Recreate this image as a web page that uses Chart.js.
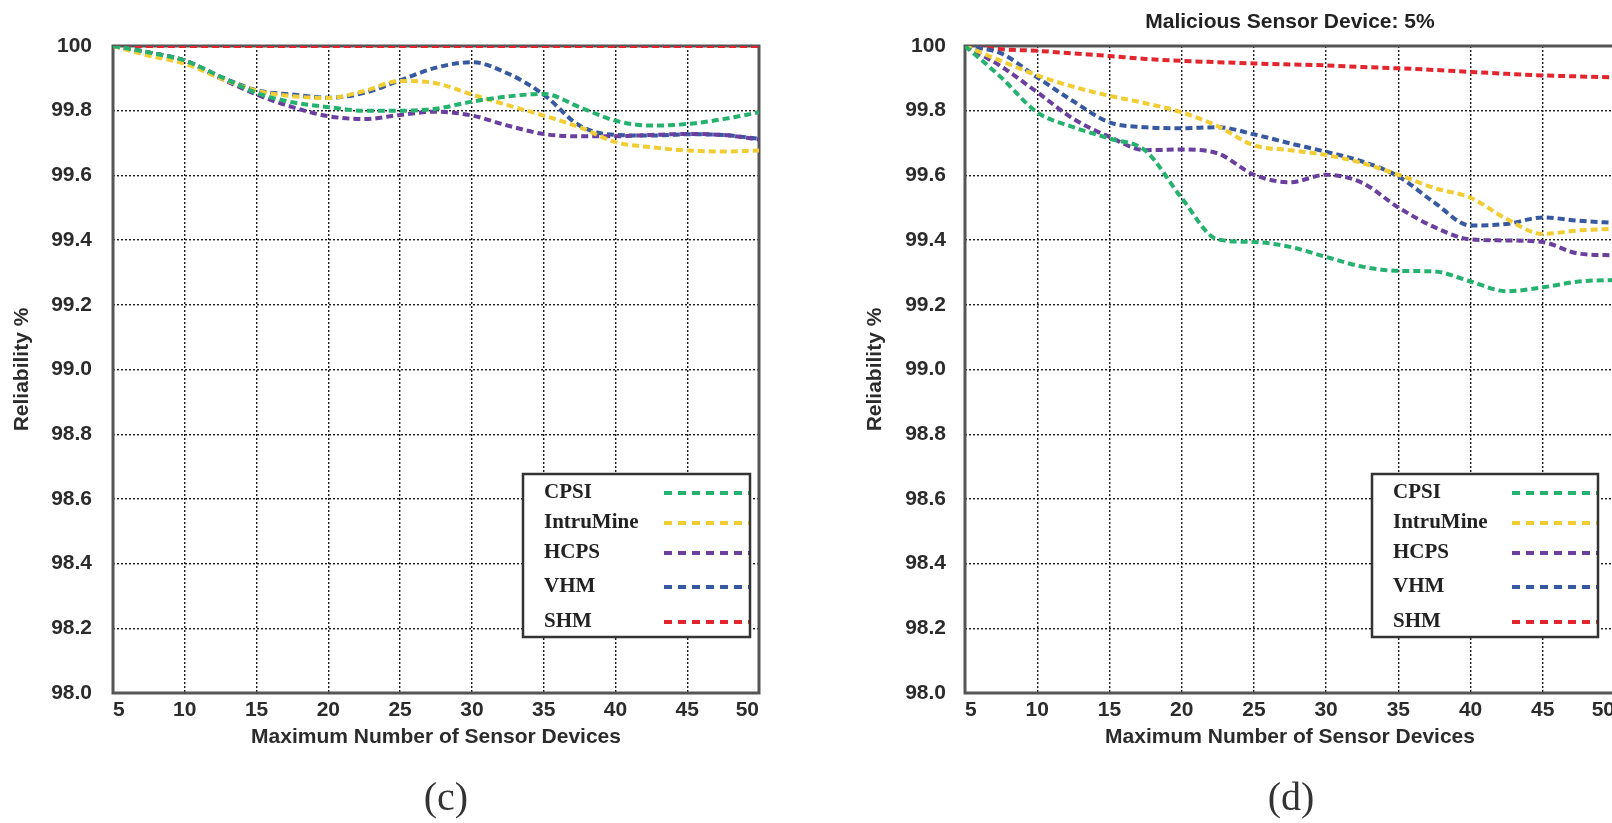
<!DOCTYPE html>
<html>
<head>
<meta charset="utf-8">
<script src="https://cdn.jsdelivr.net/npm/chart.js@4.4.0/dist/chart.umd.min.js"></script>
<style>
  html, body { margin: 0; padding: 0; background: #fff; overflow: hidden; }
  body { width: 1612px; height: 823px; position: relative; }
  .panel { position: absolute; top: 0; height: 823px; width: 800px; }
  #panelC { left: 0; }
  #panelD { left: 820px; }
  .caption {
    position: absolute; top: 775px; width: 120px; text-align: center;
    font: 40px "Liberation Serif", "Times New Roman", serif; line-height: 44px; color: #333;
  }
</style>
</head>
<body>
<div class="panel" id="panelC"><canvas id="chartC"></canvas></div>
<div class="panel" id="panelD"><canvas id="chartD"></canvas></div>
<div class="caption" style="left:386px">(c)</div>
<div class="caption" style="left:1231px">(d)</div>
<script>
// x positions (every 2.5 sensor devices)
const xValues = [5, 7.5, 10, 12.5, 15, 17.5, 20, 22.5, 25, 27.5, 30, 32.5, 35, 37.5, 40, 42.5, 45, 47.5, 50];
const seriesNames = ['CPSI', 'IntruMine', 'HCPS', 'VHM', 'SHM'];

// panel (c)
const cCPSI      = [100, 99.98, 99.955, 99.905, 99.855, 99.826, 99.811, 99.80, 99.80, 99.806, 99.828, 99.844, 99.852, 99.811, 99.769, 99.754, 99.759, 99.774, 99.795];
const cIntruMine = [100, 99.97, 99.945, 99.90, 99.862, 99.845, 99.839, 99.861, 99.892, 99.885, 99.85, 99.817, 99.785, 99.749, 99.703, 99.687, 99.677, 99.674, 99.677];
const cHCPS      = [100, 99.98, 99.955, 99.90, 99.85, 99.811, 99.783, 99.774, 99.787, 99.797, 99.785, 99.754, 99.728, 99.721, 99.721, 99.725, 99.728, 99.725, 99.711];
const cVHM       = [100, 99.98, 99.955, 99.905, 99.863, 99.85, 99.84, 99.855, 99.894, 99.933, 99.95, 99.915, 99.85, 99.754, 99.725, 99.723, 99.727, 99.725, 99.713];
const cSHM       = [100, 100, 100, 100, 100, 100, 100, 100, 100, 100, 100, 100, 100, 100, 100, 100, 100, 100, 100];

// panel (d), malicious sensor device 5%
const dCPSI      = [100, 99.903, 99.795, 99.749, 99.714, 99.676, 99.53, 99.402, 99.394, 99.379, 99.348, 99.318, 99.305, 99.303, 99.272, 99.242, 99.254, 99.272, 99.277];
const dIntruMine = [100, 99.954, 99.909, 99.874, 99.846, 99.823, 99.795, 99.752, 99.693, 99.678, 99.663, 99.638, 99.602, 99.561, 99.531, 99.465, 99.419, 99.43, 99.435];
const dHCPS      = [100, 99.937, 99.857, 99.775, 99.719, 99.678, 99.68, 99.668, 99.602, 99.579, 99.602, 99.577, 99.501, 99.44, 99.402, 99.399, 99.394, 99.358, 99.353];
const dVHM       = [100, 99.977, 99.903, 99.829, 99.764, 99.749, 99.746, 99.749, 99.727, 99.699, 99.673, 99.643, 99.597, 99.516, 99.445, 99.45, 99.47, 99.46, 99.453];
const dSHM       = [100, 99.99, 99.985, 99.977, 99.969, 99.96, 99.954, 99.95, 99.946, 99.943, 99.94, 99.935, 99.931, 99.926, 99.92, 99.914, 99.909, 99.906, 99.903];

const seriesColors = ['#25b26e', '#f1cd33', '#6b3f9e', '#36599f', '#e3262e'];
const tickFont = { size: 21, weight: 'bold' };

Chart.defaults.font.family = '"Liberation Sans", Arial, sans-serif';
Chart.defaults.color = '#2b2b2b';

// grey box round the plot area, drawn under the curves
const plotFrame = {
  id: 'plotFrame',
  beforeDatasetsDraw(chart) {
    const { ctx, chartArea: a } = chart;
    ctx.save();
    ctx.strokeStyle = '#555';
    ctx.lineWidth = 3;
    ctx.strokeRect(a.left, a.top, a.right - a.left, a.bottom - a.top);
    ctx.restore();
  }
};

// legend box inside the plot: name on the left, dashed sample on the right
const boxLegend = {
  id: 'boxLegend',
  afterDatasetsDraw(chart, args, opts) {
    const { ctx, chartArea: a } = chart;
    const right = a.right - opts.right;
    const bottom = a.bottom - opts.bottom;
    const left = right - opts.width;
    const top = bottom - opts.height;
    ctx.save();
    ctx.fillStyle = '#fff';
    ctx.fillRect(left, top, opts.width, opts.height);
    ctx.font = 'bold 21px "Liberation Serif", "Times New Roman", serif';
    ctx.textBaseline = 'middle';
    chart.data.datasets.forEach((ds, i) => {
      const y = top + opts.rows[i];
      ctx.fillStyle = '#222';
      ctx.fillText(ds.label, left + 21, y);
      ctx.strokeStyle = ds.borderColor;
      ctx.lineWidth = 4;
      ctx.setLineDash([8, 6]);
      ctx.beginPath();
      ctx.moveTo(right - 86, y);
      ctx.lineTo(right, y);
      ctx.stroke();
    });
    ctx.setLineDash([]);
    ctx.strokeStyle = '#333';
    ctx.lineWidth = 2.5;
    ctx.strokeRect(left, top, opts.width, opts.height);
    ctx.restore();
  }
};

function makeDatasets(values) {
  return values.map((vals, i) => ({
    label: seriesNames[i],
    data: xValues.map((x, j) => ({ x: x, y: vals[j] })),
    borderColor: seriesColors[i],
    borderWidth: 4,
    borderDash: [7, 4],
    pointRadius: 0,
    fill: false,
    cubicInterpolationMode: 'monotone'
  }));
}

function makeScales(yWidth, yTitlePad, yTickPad) {
  const grid = { color: '#1a1a1a', lineWidth: 1.4, drawTicks: false };
  const border = { display: false, dash: [2, 2] };
  return {
    x: {
      type: 'linear', min: 5, max: 50,
      afterFit(s) { s.height = 60; },
      ticks: { stepSize: 5, align: 'inner', padding: 5, autoSkip: false, maxRotation: 0, font: tickFont },
      grid: grid, border: border,
      title: { display: true, text: 'Maximum Number of Sensor Devices', font: tickFont, padding: { top: 0, bottom: 3 } }
    },
    y: {
      type: 'linear', min: 98, max: 100,
      afterFit(s) { s.width = yWidth; },
      ticks: {
        stepSize: 0.2, crossAlign: 'near', padding: yTickPad, font: tickFont,
        callback: v => Math.abs(v - 100) < 1e-6 ? '100' : v.toFixed(1)
      },
      grid: grid, border: border,
      title: { display: true, text: 'Reliability %', font: tickFont, padding: { top: yTitlePad, bottom: 0 } }
    }
  };
}

new Chart(document.getElementById('chartC'), {
  type: 'line',
  data: { datasets: makeDatasets([cCPSI, cIntruMine, cHCPS, cVHM, cSHM]) },
  options: {
    responsive: true, maintainAspectRatio: false, animation: false,
    layout: { padding: { top: 46, left: 0, right: 41, bottom: 70 } },
    scales: makeScales(113, 10, 21),
    plugins: {
      legend: { display: false },
      tooltip: { enabled: false },
      boxLegend: { right: 9, bottom: 56, width: 227, height: 163, rows: [19, 49, 79, 113, 148] }
    }
  },
  plugins: [plotFrame, boxLegend]
});

new Chart(document.getElementById('chartD'), {
  type: 'line',
  data: { datasets: makeDatasets([dCPSI, dIntruMine, dHCPS, dVHM, dSHM]) },
  options: {
    responsive: true, maintainAspectRatio: false, animation: false,
    layout: { padding: { top: 0, left: 0, right: 3, bottom: 70 } },
    scales: makeScales(145, 43, 19),
    plugins: {
      legend: { display: false },
      tooltip: { enabled: false },
      title: {
        display: true, text: 'Malicious Sensor Device: 5%', fullSize: false,
        font: tickFont, color: '#222', padding: { top: 10, bottom: 10.8 }
      },
      boxLegend: { right: 17, bottom: 56, width: 226, height: 163, rows: [19, 49, 79, 113, 148] }
    }
  },
  plugins: [plotFrame, boxLegend]
});
</script>
</body>
</html>
